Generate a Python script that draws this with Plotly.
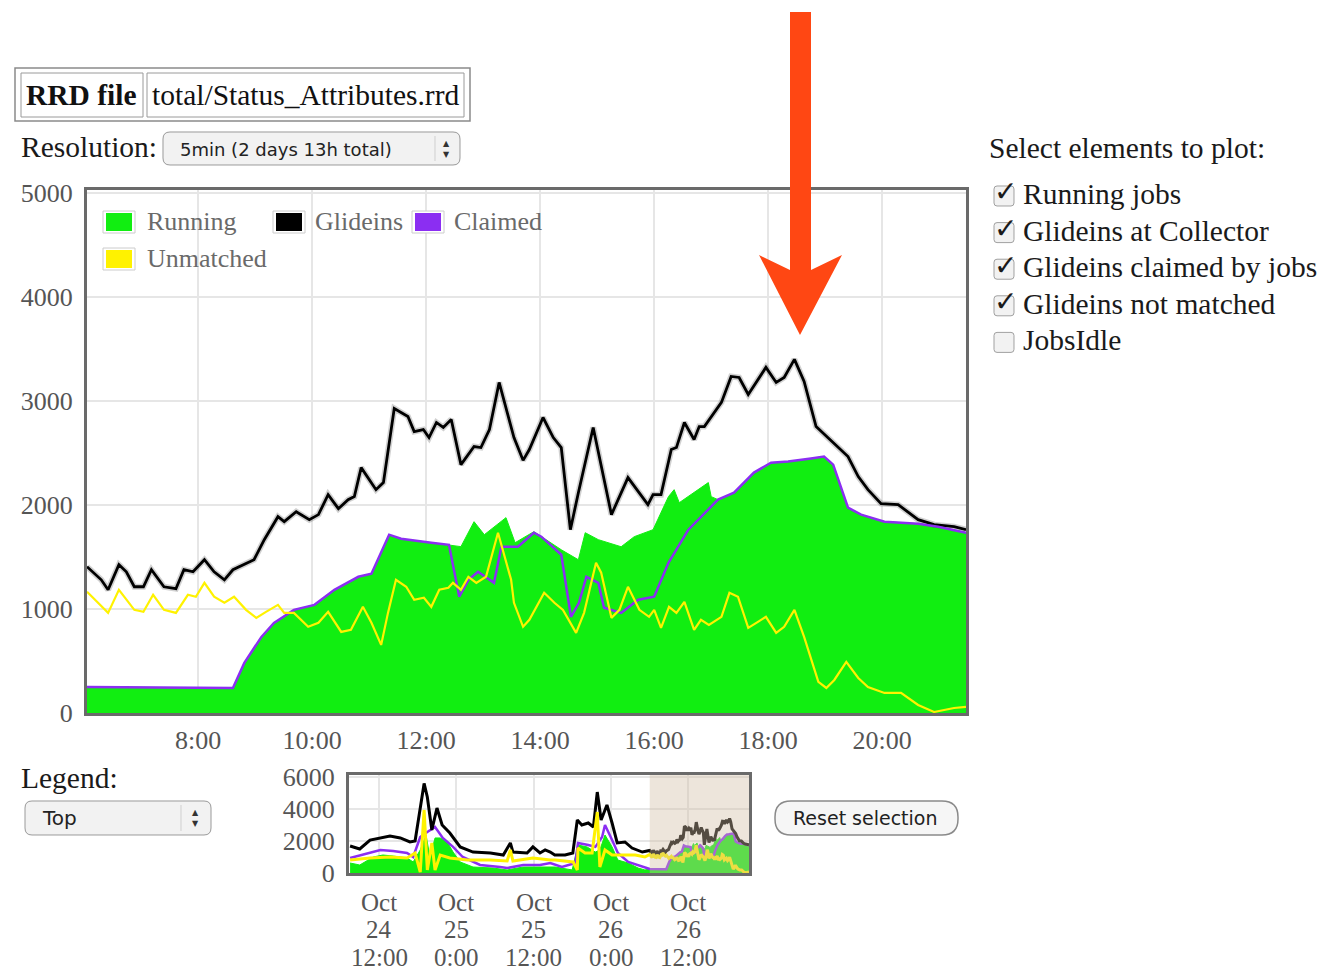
import plotly.graph_objects as go
import pandas as pd

# ---------------- data ----------------
# main chart, hours of Oct 26
glide_h = [6.05,6.30,6.42,6.61,6.74,6.88,7.04,7.18,7.40,7.61,7.75,7.91,8.11,8.28,8.46,8.61,8.98,9.16,9.40,9.51,
           9.72,9.95,10.11,10.28,10.46,10.63,10.74,10.86,11.12,11.25,11.44,11.68,11.79,11.95,12.05,12.18,12.30,12.44,
           12.61,12.84,12.96,13.11,13.28,13.54,13.70,13.81,14.05,14.23,14.37,14.53,14.67,14.93,15.25,15.54,15.89,15.98,
           16.12,16.30,16.39,16.53,16.70,16.79,16.88,17.18,17.35,17.49,17.65,17.82,17.96,18.14,18.28,18.46,18.63,18.84,
           19.11,19.40,19.58,19.75,19.98,20.28,20.63,20.91,21.26,21.47]
glideins = [1407,1281,1185,1426,1358,1214,1214,1378,1214,1195,1378,1358,1474,1358,1281,1378,1474,1667,1888,1840,
            1936,1859,1908,2100,1965,2052,2081,2360,2148,2216,2929,2852,2707,2726,2649,2794,2746,2823,
            2389,2563,2553,2726,3179,2649,2430,2534,2842,2649,2553,1763,2119,2746,1908,2264,2004,2100,
            2100,2534,2553,2794,2630,2755,2755,2987,3237,3227,3064,3208,3324,3179,3227,3401,3189,2755,
            2611,2466,2274,2148,2014,2004,1859,1811,1792,1763]

claim_h = [6.05,8.61,8.81,9.11,9.33,9.68,10.04,10.39,10.81,11.04,11.35,11.56,12.09,12.40,12.58,12.74,12.91,13.19,
           13.32,13.61,13.89,14.02,14.37,14.54,14.68,14.81,15.02,15.12,15.42,15.72,16.00,16.25,16.60,17.12,17.40,
           17.75,18.05,18.35,18.75,18.98,19.14,19.40,19.63,20.04,20.63,20.98,21.47]
claimed = [250,240,482,732,867,992,1040,1185,1310,1339,1715,1676,1638,1618,1118,1281,1358,1252,
           1599,1599,1734,1696,1522,925,1060,1310,1252,1012,963,1089,1118,1445,1763,2052,2119,
           2312,2408,2418,2447,2466,2389,1975,1908,1840,1821,1792,1734]

run_h = [6.05,8.61,8.81,9.11,9.33,9.68,10.04,10.39,10.81,11.04,11.35,11.56,12.09,12.40,12.61,12.84,13.02,13.40,
         13.56,13.89,14.37,14.67,14.79,15.02,15.19,15.42,15.65,15.98,16.25,16.35,16.44,16.60,16.95,17.00,17.12,
         17.40,17.75,18.05,18.35,18.75,18.98,19.14,19.40,19.63,20.04,20.63,20.98,21.47]
running = [250,240,482,732,867,992,1040,1185,1310,1339,1715,1676,1638,1618,1600,1840,1715,1879,
           1638,1744,1570,1474,1734,1667,1638,1599,1696,1763,2081,2148,2023,2081,2216,2081,2052,
           2119,2312,2408,2418,2447,2466,2389,1975,1908,1840,1821,1792,1734]

unm_h = [6.05,6.42,6.61,6.88,7.04,7.21,7.40,7.61,7.82,7.96,8.11,8.28,8.46,8.63,8.84,9.02,9.19,9.40,9.51,9.68,
         9.93,10.11,10.28,10.51,10.68,10.89,11.04,11.21,11.33,11.47,11.65,11.79,11.96,12.09,12.23,12.39,12.47,
         12.61,12.74,12.88,13.05,13.26,13.49,13.54,13.70,13.81,14.07,14.25,14.40,14.63,14.77,14.98,15.07,15.25,
         15.39,15.54,15.74,15.91,16.00,16.12,16.26,16.39,16.53,16.70,16.82,16.96,17.18,17.32,17.47,17.65,17.82,
         17.96,18.14,18.28,18.46,18.63,18.88,19.02,19.16,19.37,19.58,19.75,20.04,20.33,20.63,20.91,21.26,21.47]
unmatched = [1166,963,1185,992,973,1137,992,963,1137,1118,1252,1118,1060,1118,992,915,973,1040,963,963,
             829,867,973,780,800,1021,867,655,963,1281,1214,1089,1108,1021,1185,1204,1252,
             1185,1310,1252,1310,1734,1281,1060,829,896,1156,1060,992,771,963,1445,1349,915,
             992,1214,992,925,992,819,1021,963,1069,800,896,848,925,1156,1118,819,877,
             925,771,829,992,732,299,241,318,491,337,250,193,193,77,10,48,58]

# overview chart, hours since Oct 24 00:00 (before the selected window)
ov_glide_h = [7.5,9.0,10.6,12.2,13.7,15.3,16.8,17.6,18.1,19.0,19.5,20.2,21.0,21.8,23.0,24.6,26.6,29.3,31.3,32.4,
              32.8,35.0,35.9,37.0,37.8,38.6,39.3,40.9,42.1,42.8,43.5,44.5,45.3,45.9,46.5,47.4,48.2,49.0,50.2,51.3,52.9]
ov_glide = [1690,1500,2060,2190,2310,2190,1940,2000,3310,5600,4750,2690,4060,3000,2500,1630,1310,1250,1125,1880,
            1310,1250,1630,1250,1440,1310,1125,1125,1250,3310,3000,3125,2875,5060,3310,4250,3125,1880,1940,1560,1310]
ov_claim_h = [7.5,10.6,12.2,14.2,16.35,17.3,18.4,19.5,20.7,21.9,23.5,25.0,27.7,30.8,31.9,34.4,37.0,38.6,40.4,42.5,
              42.9,44.5,45.6,46.65,47.1,48.2,49.1,50.7,52.25,53.8]
ov_claim = [940,1250,1440,1375,1250,1000,2250,2560,2875,2190,1630,1000,500,375,310,500,500,625,375,625,
            1880,1750,1630,2250,3000,2060,1250,690,500,310]
ov_run_h = [7.5,9.0,11.1,12.6,14.2,16.35,17.3,18.4,19.3,19.9,20.7,21.5,22.6,23.5,24.6,26.6,29.7,31.9,34.4,37.0,
            39.35,42.0,42.9,44.3,45.6,46.3,47.1,48.2,49.1,50.7,52.25,53.3]
ov_run = [625,500,1000,1125,1060,940,690,1440,2375,1000,2190,2190,1940,1310,690,375,310,190,375,375,
          375,190,1750,1630,1310,1440,2375,1630,810,625,310,190]
ov_unm_h = [7.5,10.6,13.7,16.35,17.6,18.4,19.0,19.5,20.2,20.7,21.5,23.0,25.7,29.25,31.9,32.4,32.8,35.9,38.6,39.35,
            42.15,42.8,42.9,44.0,45.1,45.9,46.3,47.1,48.2,49.8,51.8,53.3]
ov_unm = [810,940,1000,940,1250,60,3940,190,1880,190,1125,940,810,810,750,1440,750,940,810,810,
          690,190,1560,1250,1250,3810,375,1440,1125,1125,1125,1000]

series_names = ["Running", "Glideins", "Claimed", "Unmatched"]
main_yticks = [0, 1000, 2000, 3000, 4000, 5000]
ov_yticks = [0, 2000, 4000, 6000]
ov_tick_times = ["2009-10-24 12:00", "2009-10-25 00:00", "2009-10-25 12:00", "2009-10-26 00:00", "2009-10-26 12:00"]
ov_tick_month = ["Oct", "Oct", "Oct", "Oct", "Oct"]
ov_tick_day = ["24", "25", "25", "26", "26"]
ov_tick_hour = ["12:00", "0:00", "12:00", "0:00", "12:00"]
elements = ["Running jobs", "Glideins at Collector", "Glideins claimed by jobs", "Glideins not matched", "JobsIdle"]
element_checked = [True, True, True, True, False]

# ---------------- helpers ----------------
W, H = 1337, 970
OX, OY = 0, 0


def px(X):
    return (X - OX) / W


def py(Y):
    return 1 - (Y - OY) / H


day24 = pd.Timestamp("2009-10-24")
day26 = pd.Timestamp("2009-10-26")


def t24(hours):
    return [day24 + pd.Timedelta(hours=h) for h in hours]


def t26(hours):
    return [day26 + pd.Timedelta(hours=h) for h in hours]


GREEN = "#11EE11"
BLACK = "#000000"
PURPLE = "#8B2EF2"
YELLOW = "#FFF200"
SERIF = "Liberation Serif"
SANS = "DejaVu Sans"
colors = [GREEN, BLACK, PURPLE, YELLOW]

fig = go.Figure()

# ---------------- main chart ----------------
fig.add_trace(go.Scatter(x=t26(run_h), y=running, mode="lines", name=series_names[0],
                         line=dict(color=GREEN, width=1), fill="tozeroy", fillcolor=GREEN,
                         xaxis="x", yaxis="y", hoverinfo="skip"))
fig.add_trace(go.Scatter(x=t26(glide_h), y=glideins, mode="lines", name=series_names[1],
                         line=dict(color="rgba(0,0,0,0.18)", width=6), xaxis="x", yaxis="y",
                         hoverinfo="skip", showlegend=False))
fig.add_trace(go.Scatter(x=t26(glide_h), y=glideins, mode="lines", name=series_names[1],
                         line=dict(color=BLACK, width=2.8), xaxis="x", yaxis="y", hoverinfo="skip"))
fig.add_trace(go.Scatter(x=t26(claim_h), y=claimed, mode="lines", name=series_names[2],
                         line=dict(color=PURPLE, width=2.5), xaxis="x", yaxis="y", hoverinfo="skip"))
fig.add_trace(go.Scatter(x=t26(unm_h), y=unmatched, mode="lines", name=series_names[3],
                         line=dict(color=YELLOW, width=2.2), xaxis="x", yaxis="y", hoverinfo="skip"))

# ---------------- overview chart ----------------
fig.add_trace(go.Scatter(x=t24(ov_run_h) + t26(run_h), y=ov_run + running, mode="lines",
                         line=dict(color=GREEN, width=1), fill="tozeroy", fillcolor=GREEN,
                         xaxis="x2", yaxis="y2", hoverinfo="skip", showlegend=False))
fig.add_trace(go.Scatter(x=t24(ov_claim_h) + t26(claim_h), y=ov_claim + claimed, mode="lines",
                         line=dict(color=PURPLE, width=2.5), xaxis="x2", yaxis="y2",
                         hoverinfo="skip", showlegend=False))
fig.add_trace(go.Scatter(x=t24(ov_glide_h) + t26(glide_h), y=ov_glide + glideins, mode="lines",
                         line=dict(color=BLACK, width=3), xaxis="x2", yaxis="y2",
                         hoverinfo="skip", showlegend=False))
fig.add_trace(go.Scatter(x=t24(ov_unm_h) + t26(unm_h), y=ov_unm + unmatched, mode="lines",
                         line=dict(color=YELLOW, width=3), xaxis="x2", yaxis="y2",
                         hoverinfo="skip", showlegend=False))

tickfont = dict(family=SERIF, size=26, color="#555555")
shapes = []
annotations = []


def text(X, Y, s, size=29.5, family=SERIF, color="#1a1a1a", xanchor="left", bold=False):
    annotations.append(dict(x=px(X), y=py(Y), xref="paper", yref="paper", text=("<b>%s</b>" % s) if bold else s,
                            showarrow=False, xanchor=xanchor, yanchor="middle",
                            font=dict(family=family, size=size, color=color)))


def rect(x0, y0, x1, y1, line="#999", lw=1, fill="rgba(0,0,0,0)"):
    shapes.append(dict(type="rect", xref="paper", yref="paper", x0=px(x0), x1=px(x1), y0=py(y0), y1=py(y1),
                       line=dict(color=line, width=lw), fillcolor=fill, layer="above"))


def rrect(x0, y0, x1, y1, r, line="#999", lw=1, fill="#f3f3f3"):
    P = lambda X, Y: "%.5f,%.5f" % (px(X), py(Y))
    path = ("M " + P(x0 + r, y0) + " L " + P(x1 - r, y0) + " Q " + P(x1, y0) + " " + P(x1, y0 + r) +
            " L " + P(x1, y1 - r) + " Q " + P(x1, y1) + " " + P(x1 - r, y1) +
            " L " + P(x0 + r, y1) + " Q " + P(x0, y1) + " " + P(x0, y1 - r) +
            " L " + P(x0, y0 + r) + " Q " + P(x0, y0) + " " + P(x0 + r, y0) + " Z")
    shapes.append(dict(type="path", xref="paper", yref="paper", path=path,
                       line=dict(color=line, width=lw), fillcolor=fill, layer="above"))


# overview selection highlight
shapes.append(dict(type="rect", xref="x2", yref="y2 domain", x0=t26(run_h)[0], x1=t26(run_h)[-1], y0=0, y1=1,
                   fillcolor="rgba(210,190,165,0.4)", line=dict(width=0), layer="above"))

# overview tick labels (three lines each)
for i, tt in enumerate(ov_tick_times):
    for j, s in enumerate([ov_tick_month[i], ov_tick_day[i], ov_tick_hour[i]]):
        annotations.append(dict(x=tt, xref="x2", y=py(902 + 27.5 * j), yref="paper", text=s, showarrow=False,
                                xanchor="center", yanchor="middle",
                                font=dict(family=SERIF, size=25, color="#555555")))

# in-chart legend
legend_pos = [(103, 222, 145), (273, 222, 313), (412, 222, 452), (103, 259, 145)]
for (bx, cy, tx), name, c in zip(legend_pos, series_names, colors):
    rect(bx, cy - 11, bx + 32, cy + 11, line="#cccccc", lw=1, fill="white")
    rect(bx + 3, cy - 9, bx + 29, cy + 9, line=c, lw=0, fill=c)
    text(tx, cy, name, size=26, color="#6a6a6a")

# RRD file table
rect(15, 68, 470, 121, line="#8a8a8a", lw=1.5)
rect(21, 73, 143, 117, line="#9a9a9a", lw=1)
rect(147, 73, 464, 117, line="#9a9a9a", lw=1)
text(24, 95, "RRD file", bold=True, color="#111")
text(150, 95, "total/Status_Attributes.rrd", color="#111")

# Resolution select
text(19, 147, "Resolution:")
rrect(163, 132, 460, 165, 7, line="#9a9a9a", lw=1, fill="#f2f2f2")
shapes.append(dict(type="line", xref="paper", yref="paper", x0=px(435), x1=px(435), y0=py(136), y1=py(161),
                   line=dict(color="#cfcfcf", width=1)))
text(178, 149, "5min (2 days 13h total)", size=18, family=SANS, color="#222")
text(446, 143, "▲", size=8, family=SANS, color="#333", xanchor="center")
text(446, 154, "▼", size=8, family=SANS, color="#333", xanchor="center")

# element selection
text(987, 148, "Select elements to plot:")
for k, (lab, chk) in enumerate(zip(elements, element_checked)):
    cy = 194 + 36.6 * k
    rrect(994, cy - 8, 1014, cy + 12, 3, line="#a0a0a0", lw=1, fill="#f2f2f2")
    if chk:
        text(1006, cy - 2, "✓", size=28, family=SANS, color="#1a1a1a", xanchor="center", bold=True)
    text(1021, cy, lab)

# Legend select
text(19, 778, "Legend:")
rrect(25, 801, 211, 835, 7, line="#9a9a9a", lw=1, fill="#f2f2f2")
shapes.append(dict(type="line", xref="paper", yref="paper", x0=px(181), x1=px(181), y0=py(805), y1=py(831),
                   line=dict(color="#cfcfcf", width=1)))
text(40, 818, "Top", size=20, family=SANS, color="#222")
text(195, 812, "▲", size=8, family=SANS, color="#333", xanchor="center")
text(195, 823, "▼", size=8, family=SANS, color="#333", xanchor="center")

# Reset button
rrect(775, 801, 958, 835, 16, line="#8a8a8a", lw=1.5, fill="#f6f6f6")
text(866, 818, "Reset selection", size=19, family=SANS, color="#222", xanchor="center")

# red arrow
arrow_pts = [(790, 12), (811, 12), (811, 270), (842, 255), (800, 335), (759, 255), (790, 270)]
path = "M " + " L ".join("%.5f,%.5f" % (px(a), py(b)) for a, b in arrow_pts) + " Z"
shapes.append(dict(type="path", xref="paper", yref="paper", path=path, fillcolor="#FF4713",
                   line=dict(width=0), layer="above"))

axis_common = dict(showgrid=True, gridcolor="#e6e6e6", gridwidth=1.5, showline=True, mirror=True,
                   linecolor="#6a6a6a", linewidth=3, ticks="", zeroline=False, tickfont=tickfont,
                   fixedrange=True)

fig.update_layout(
    width=W, height=H, margin=dict(l=0, r=0, t=0, b=0), template="none",
    paper_bgcolor="white", plot_bgcolor="white", showlegend=False, hovermode=False,
    xaxis=dict(axis_common, type="date", domain=[px(87), px(966)], anchor="y",
               range=[t26(glide_h)[0], t26(glide_h)[-1]], tickformat="%-H:%M",
               dtick=7200000, tick0="2009-10-26 00:00", ticklabelstandoff=2),
    yaxis=dict(axis_common, domain=[py(713), py(190)], anchor="x", range=[0, 5030],
               tickvals=main_yticks, ticklabelstandoff=6),
    xaxis2=dict(axis_common, type="date", domain=[px(349), px(749)], anchor="y2",
                range=[day24 + pd.Timedelta(hours=7.333), t26(glide_h)[-1]],
                tickvals=ov_tick_times, showticklabels=False),
    yaxis2=dict(axis_common, domain=[py(873), py(775)], anchor="x2", range=[0, 6125],
                tickvals=ov_yticks, ticklabelstandoff=6),
    shapes=shapes, annotations=annotations,
)

fig.write_html("out.html", config={"displayModeBar": False},
               post_script="document.body.style.margin='0px';")
